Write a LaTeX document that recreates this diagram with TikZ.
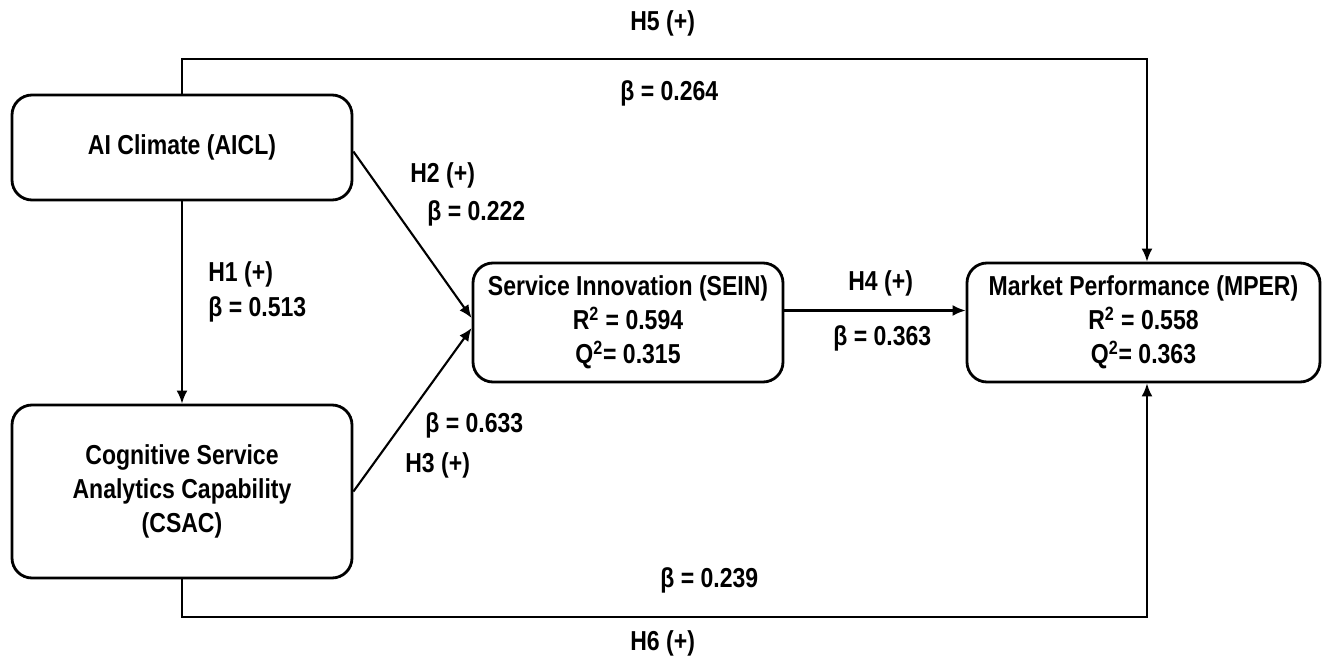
\documentclass[tikz,border=0pt]{standalone}
\usepackage{fontspec}
\setmainfont{Liberation Sans}[FakeStretch=0.84]
\usetikzlibrary{arrows.meta,calc}
\begin{document}
\begin{tikzpicture}[x=0.02cm,y=-0.02cm,
  font=\fontsize{15.6}{19.5}\selectfont\bfseries,
  box/.style={draw,line width=1.6pt,rounded corners=0.4cm,align=center,inner sep=0pt},
  conn/.style={line width=1.2pt,-{Latex[length=2.6mm,width=2.2mm]}},
  lbl/.style={inner sep=0pt,anchor=west}]
\useasboundingbox (0,0) rectangle (1330,660);
\node[box,minimum width=340*0.02cm,minimum height=105*0.02cm] (AICL) at (182,147.5) {AI Climate (AICL)};
\node[box,minimum width=340*0.02cm,minimum height=173*0.02cm] (CSAC) at (182,491.5) {Cognitive Service\\Analytics Capability\\(CSAC)};
\node[box,minimum width=310*0.02cm,minimum height=119*0.02cm] (SEIN) at (628,322.5) {Service Innovation (SEIN)\\R\textsuperscript{2} = 0.594\\Q\textsuperscript{2}= 0.315};
\node[box,minimum width=353*0.02cm,minimum height=119*0.02cm] (MPER) at (1143.5,322.5) {Market Performance (MPER)\\R\textsuperscript{2} = 0.558\\Q\textsuperscript{2}= 0.363};
\draw[conn] (AICL.south) -- (CSAC.north);
\draw[conn] ($(AICL.east)+(0,4)$) -- ($(SEIN.west)+(0,-4.5)$);
\draw[conn] ($(CSAC.east)+(0,0)$) -- ($(SEIN.west)+(0,5.5)$);
\draw[conn] ($(SEIN.east)+(0,-12)$) -- ($(MPER.west)+(0,-12)$);
\draw[conn] (AICL.north) -- ++(0,-35) -| ($(MPER.north)+(3.5,0)$);
\draw[conn] (CSAC.south) -- ++(0,38) -| ($(MPER.south)+(3.5,0)$);
\node[lbl] (h5) at (630,23) {H5 (+)};
\node[lbl] (b5) at (620,93) {β = 0.264};
\node[lbl] (h2) at (410,175) {H2 (+)};
\node[lbl] (b2) at (427,213) {β = 0.222};
\node[lbl] (h1) at (208,274) {H1 (+)};
\node[lbl] (b1) at (208,309) {β = 0.513};
\node[lbl] (h4) at (848,283) {H4 (+)};
\node[lbl] (b4) at (833,338) {β = 0.363};
\node[lbl] (b3) at (425,425) {β = 0.633};
\node[lbl] (h3) at (405,465) {H3 (+)};
\node[lbl] (b6) at (660,580) {β = 0.239};
\node[lbl] (h6) at (630,643) {H6 (+)};
\end{tikzpicture}
\end{document}
